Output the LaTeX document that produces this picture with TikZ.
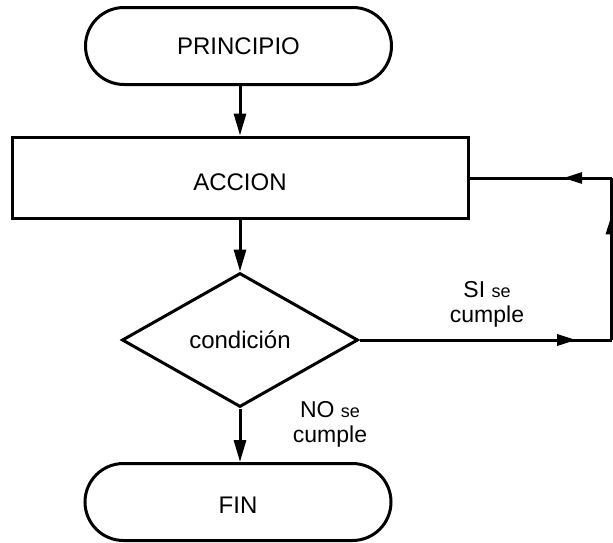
\documentclass[tikz,border=0pt]{standalone}
\usepackage{fontspec}
\setmainfont{Liberation Sans}
\usetikzlibrary{shapes.misc,shapes.geometric,arrows.meta,decorations.markings}
% lower a block's text a little while keeping the block's size
\newcommand{\lowertext}[2]{\raisebox{-#1}[\height][\depth]{#2}}
\begin{document}
\begin{tikzpicture}[x=1pt,y=-1pt,line width=3pt,
  terminal/.style={draw,rounded rectangle,minimum width=306pt,minimum height=77pt,inner sep=0pt,font=\fontsize{24}{26}\selectfont},
  process/.style={draw,rectangle,minimum width=456pt,minimum height=81pt,inner sep=0pt,font=\fontsize{24}{26}\selectfont},
  decision/.style={draw,diamond,aspect=1.76,minimum width=236pt,minimum height=134pt,inner sep=0pt,font=\fontsize{24}{26}\selectfont},
  flow/.style={-{Triangle[length=22pt,width=12pt]}},
  midtip/.style={postaction={decorate},decoration={markings,mark=at position #1 with {\arrow{Triangle[length=19pt,width=11pt]}}}},
  lbl/.style={align=center,inner sep=0pt,font=\fontsize{23}{25}\selectfont}]
  \useasboundingbox (0,0) rectangle (613,542);
  % blocks of the flowchart
  \node[terminal] (start) at (238.5,46) {PRINCIPIO};
  \node[process]  (act)   at (240,177.5) {\lowertext{5pt}{ACCION}};
  \node[decision] (cond)  at (240,340) {condición};
  \node[terminal] (end)   at (238,502) {\lowertext{3pt}{FIN}};
  % straight-down flow
  \draw[flow] (start.south -| act) -- (act.north);
  \draw[flow] (act.south) -- (cond.north);
  \draw[flow] (cond.south) -- (end.north -| cond.south);
  % loop back on the right
  \coordinate (rb) at (611.5,340);
  \coordinate (rt) at (611.5,178);
  \draw[midtip=0.86] (cond.east) -- (rb);
  \draw[midtip=0.77] (rb) -- (rt);
  \draw[midtip=0.34] (rt) -- (act.east |- rt);
  % branch labels
  \node[lbl] (si) at (487,304) {SI {\fontsize{18}{19}\selectfont se}\\cumple};
  \node[lbl] (no) at (330,424) {NO {\fontsize{18}{19}\selectfont se}\\cumple};
\end{tikzpicture}
\end{document}
